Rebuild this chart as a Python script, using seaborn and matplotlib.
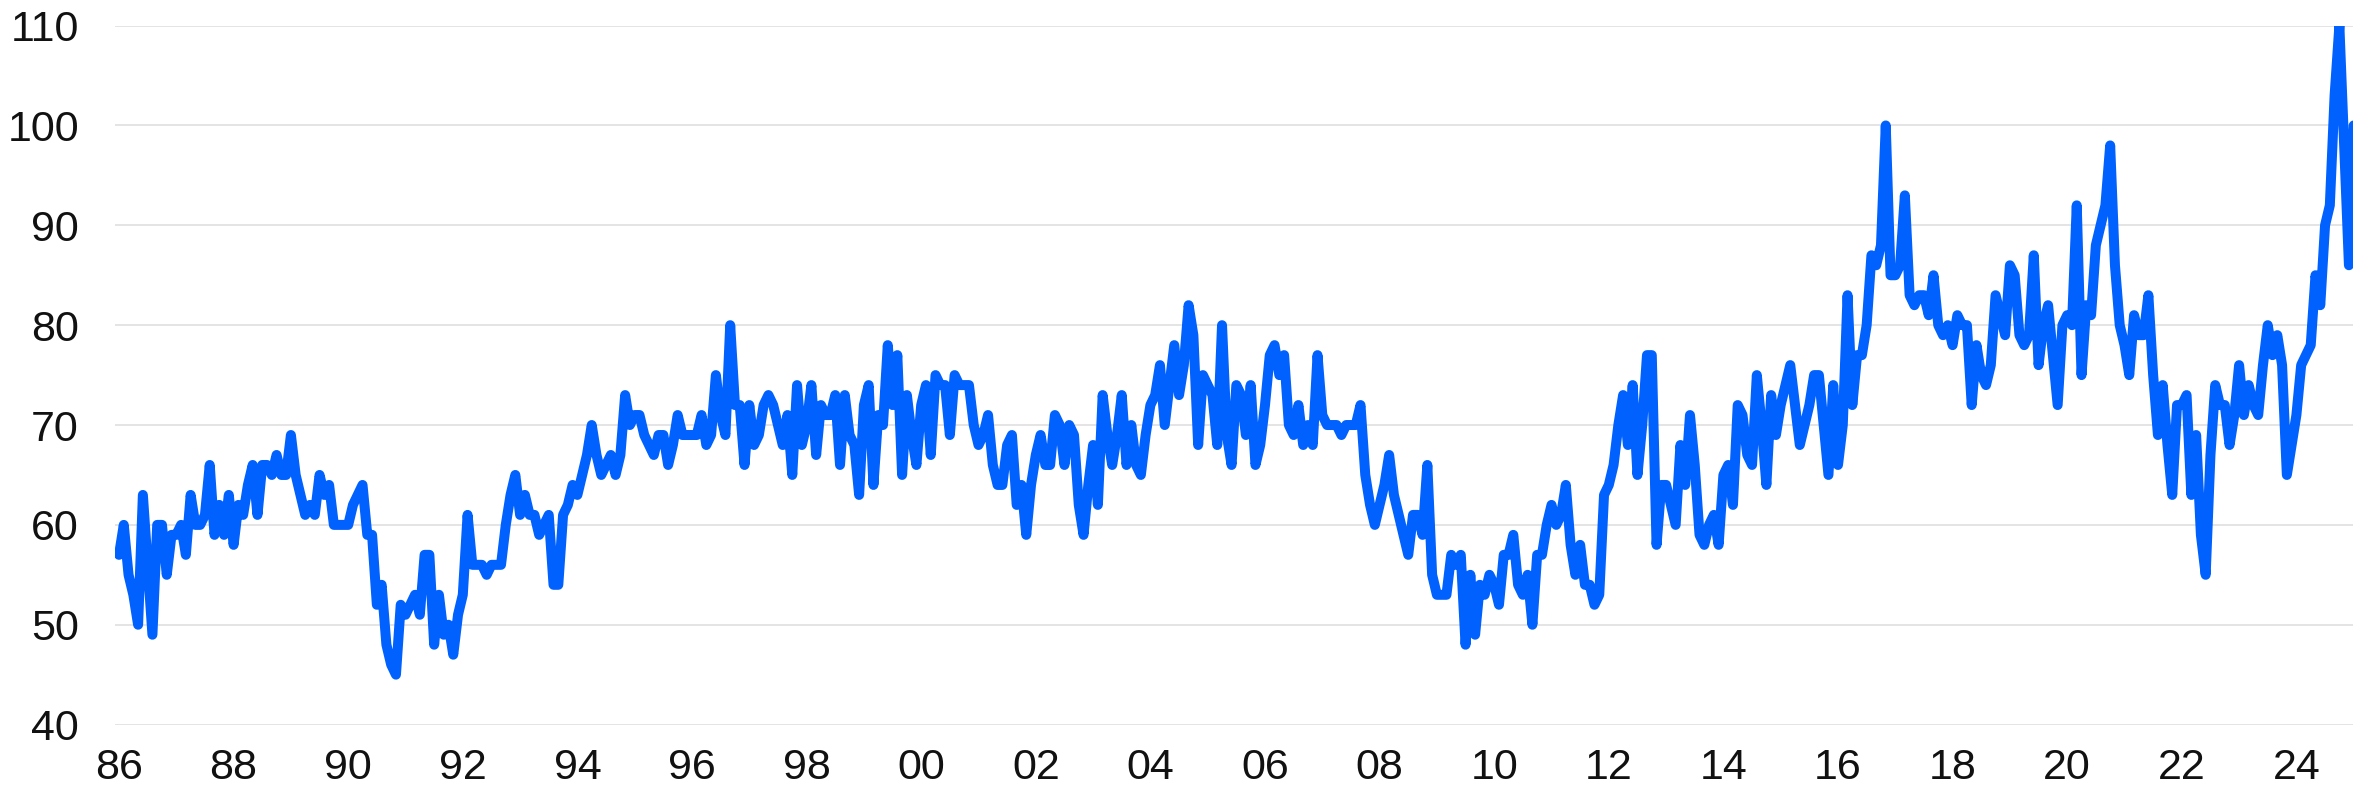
import numpy as np
import pandas as pd
import matplotlib
matplotlib.use("Agg")
import matplotlib.pyplot as plt
import seaborn as sns

# Monthly index values, starting January 1986
start_year = 1986
values_1980s = [
    57, 60, 55, 53, 50, 63, 56, 49, 60, 60, 55, 59,   # 1986
    59, 60, 57, 63, 60, 60, 61, 66, 59, 62, 59, 63,   # 1987
    58, 62, 61, 64, 66, 61, 66, 66, 65, 67, 65, 65,   # 1988
    69, 65, 63, 61, 62, 61, 65, 63, 64, 60, 60, 60,   # 1989
]
values_1990s = [
    60, 62, 63, 64, 59, 59, 52, 54, 48, 46, 45, 52,   # 1990
    51, 52, 53, 51, 57, 57, 48, 53, 49, 50, 47, 51,   # 1991
    53, 61, 56, 56, 56, 55, 56, 56, 56, 60, 63, 65,   # 1992
    61, 63, 61, 61, 59, 60, 61, 54, 54, 61, 62, 64,   # 1993
    63, 65, 67, 70, 67, 65, 66, 67, 65, 67, 73, 70,   # 1994
    71, 71, 69, 68, 67, 69, 69, 66, 68, 71, 69, 69,   # 1995
    69, 69, 71, 68, 69, 75, 71, 69, 80, 72, 72, 66,   # 1996
    72, 68, 69, 72, 73, 72, 70, 68, 71, 65, 74, 68,   # 1997
    70, 74, 67, 72, 71, 71, 73, 66, 73, 69, 68, 63,   # 1998
    72, 74, 64, 71, 70, 78, 72, 77, 65, 73, 69, 66,   # 1999
]
values_2000s = [
    72, 74, 67, 75, 74, 74, 69, 75, 74, 74, 74, 70,   # 2000
    68, 69, 71, 66, 64, 64, 68, 69, 62, 64, 59, 64,   # 2001
    67, 69, 66, 66, 71, 70, 66, 70, 69, 62, 59, 64,   # 2002
    68, 62, 73, 69, 66, 69, 73, 66, 70, 66, 65, 69,   # 2003
    72, 73, 76, 70, 74, 78, 73, 76, 82, 79, 68, 75,   # 2004
    74, 73, 68, 80, 69, 66, 74, 73, 69, 74, 66, 68,   # 2005
    72, 77, 78, 75, 77, 70, 69, 72, 68, 70, 68, 77,   # 2006
    71, 70, 70, 70, 69, 70, 70, 70, 72, 65, 62, 60,   # 2007
    62, 64, 67, 63, 61, 59, 57, 61, 61, 59, 66, 55,   # 2008
    53, 53, 53, 57, 56, 57, 48, 55, 49, 54, 53, 55,   # 2009
]
values_2010s = [
    54, 52, 57, 57, 59, 54, 53, 55, 50, 57, 57, 60,   # 2010
    62, 60, 61, 64, 58, 55, 58, 54, 54, 52, 53, 63,   # 2011
    64, 66, 70, 73, 68, 74, 65, 70, 77, 77, 58, 64,   # 2012
    64, 62, 60, 68, 64, 71, 66, 59, 58, 60, 61, 58,   # 2013
    65, 66, 62, 72, 71, 67, 66, 75, 70, 64, 73, 69,   # 2014
    72, 74, 76, 72, 68, 70, 72, 75, 75, 70, 65, 74,   # 2015
    66, 70, 83, 72, 77, 77, 80, 87, 86, 88, 100, 85,  # 2016
    85, 86, 93, 83, 82, 83, 83, 81, 85, 80, 79, 80,   # 2017
    78, 81, 80, 80, 72, 78, 75, 74, 76, 83, 81, 79,   # 2018
    86, 85, 79, 78, 79, 87, 76, 80, 82, 77, 72, 80,   # 2019
]
values_2020s = [
    81, 80, 92, 75, 82, 81, 88, 90, 92, 98, 86, 80,   # 2020
    78, 75, 81, 79, 79, 83, 75, 69, 74, 68, 63, 72,   # 2021
    72, 73, 63, 69, 59, 55, 67, 74, 72, 72, 68, 71,   # 2022
    76, 71, 74, 72, 71, 76, 80, 77, 79, 76, 65, 68,   # 2023
    71, 76, 77, 78, 85, 82, 90, 92, 103, 110, 98, 86, # 2024
    100,                                              # 2025
]

tick_years = list(range(1986, 2025, 2))
tick_labels = [f"{y % 100:02d}" for y in tick_years]
y_ticks = [40, 50, 60, 70, 80, 90, 100, 110]

values = values_1980s + values_1990s + values_2000s + values_2010s + values_2020s
df = pd.DataFrame({
    "year": start_year + np.arange(len(values)) / 12.0,
    "value": values,
})

sns.set_theme(style="white")
plt.rcParams["font.family"] = ["Liberation Sans", "DejaVu Sans"]

W, H = 2362, 791
fig = plt.figure(figsize=(W / 100, H / 100), dpi=100)
left, right, top, bottom = 115, 2353, 25.6, 724.6
ax = fig.add_axes([left / W, 1 - bottom / H, (right - left) / W, (bottom - top) / H])

sns.lineplot(data=df, x="year", y="value", ax=ax, color="#0061FE",
             linewidth=7.2, solid_joinstyle="round", solid_capstyle="round")

px_per_year = 57.3
x0 = 1986 - 4 / px_per_year
ax.set_xlim(x0, x0 + (right - left) / px_per_year)
ax.set_ylim(40, 110)
ax.set_yticks(y_ticks)
ax.set_yticklabels([str(v) for v in y_ticks])
ax.set_xticks(tick_years)
ax.set_xticklabels(tick_labels)
ax.grid(axis="y", color="#E2E2E2", linewidth=1.3)
ax.grid(axis="x", visible=False)
ax.set_axisbelow(True)
for s in ax.spines.values():
    s.set_visible(False)
ax.tick_params(axis="both", length=0, labelsize=31, colors="#111111")
ax.tick_params(axis="y", pad=26)
ax.tick_params(axis="x", pad=17)
ax.set_xlabel("")
ax.set_ylabel("")

fig.savefig("out.png", dpi=100)
